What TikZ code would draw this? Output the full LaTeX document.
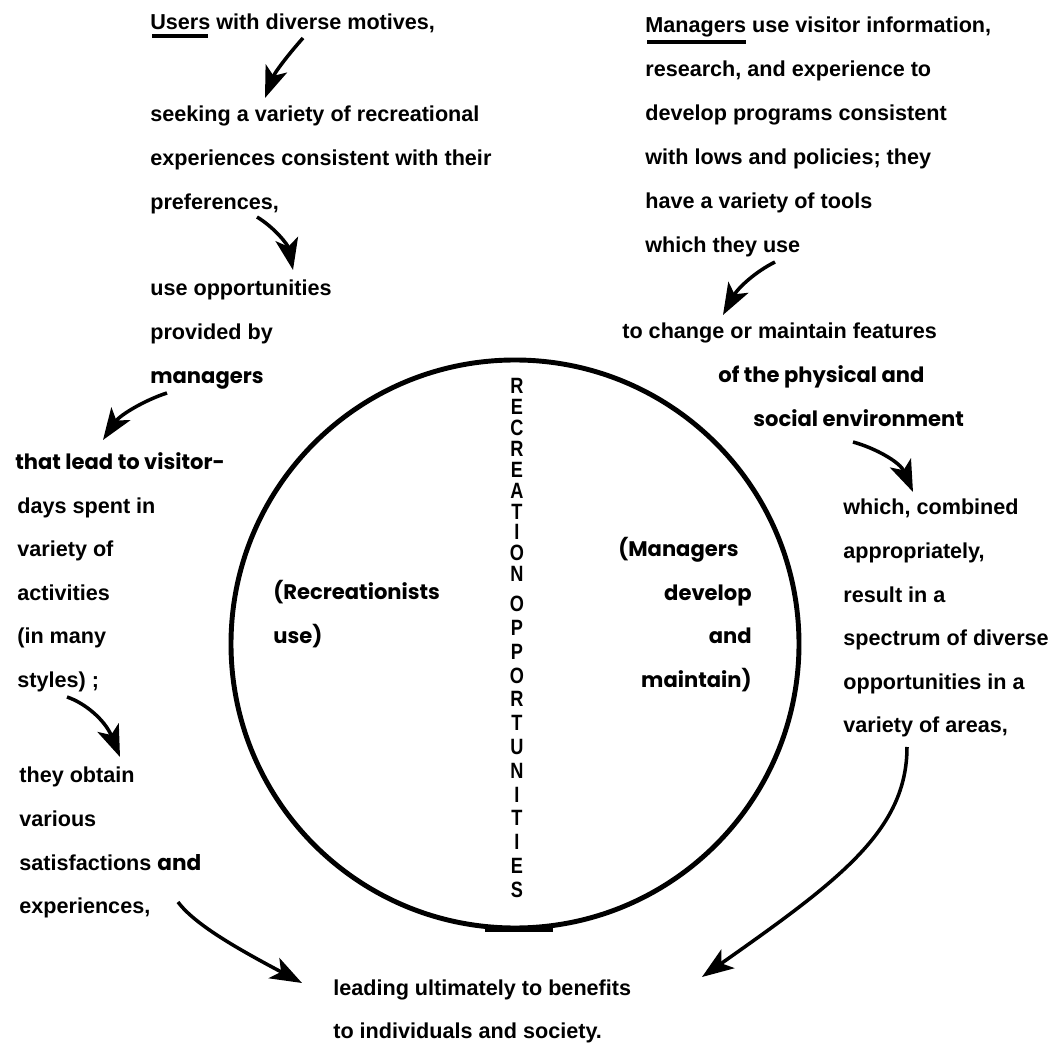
\documentclass[tikz,border=0pt]{standalone}
\usepackage{fontspec}
\setmainfont{Liberation Sans}
\newfontfamily\geofont{Poppins}
\newfontfamily\vertfont{Liberation Sans}[FakeStretch=0.82]
\usetikzlibrary{arrows.meta}

\tikzset{
  txt/.style={anchor=base west, inner sep=0pt, font=\fontsize{12.3}{15}\selectfont\bfseries},
  geo/.style={anchor=base west, inner sep=0pt, font=\geofont\fontsize{12}{14}\selectfont\bfseries},
  arr/.style={line width=2pt, -{Stealth[length=18pt,width=13pt,inset=4.5pt]}},
  vlet/.style={inner sep=0pt, font=\vertfont\fontsize{12.6}{12.6}\selectfont\bfseries},
}

\begin{document}
\begin{tikzpicture}[x=0.02cm, y=-0.02cm]
    \useasboundingbox (0,0) rectangle (1056,1047);

    % Circulo central
    \draw[line width=2.8pt] (515,644) circle (284);
    \draw[line width=3.8pt] (485,929) -- (553,929);

    % Texto vertical
    \foreach \l [count=\i from 0] in {R,E,C,R,E,A,T,I,O,N}
        \node[vlet] (rec\i) at (517, 386+20.9*\i) {\l};
    \foreach \l [count=\i from 0] in {O,P,P,O,R,T,U,N,I,T,I,E,S}
        \node[vlet] (opp\i) at (517, 604+23.8*\i) {\l};

    % Dentro del circulo
    \node[geo] (recuse) at (273,600) {(Recreationists};
    \node[geo] (recuse2) at (273,643.6) {use)};
    \node[geo, anchor=base east] (mandev) at (739,556.7) {(Managers};
    \foreach \t [count=\i from 0] in {develop,and,maintain)}
        \node[geo, anchor=base east] (mandev\i) at (752, 600.3+43.6*\i) {\t};

    % Columna izquierda
    \node[txt] (users) at (150,30) {Users with diverse motives,};
    \draw[line width=1.8pt] (152,36) -- (208,36);
    \foreach \t [count=\i from 0] in {{seeking a variety of recreational},{experiences consistent with their},{preferences,}}
        \node[txt] (seek\i) at (150, 122+43.6*\i) {\t};
    \node[txt] (useopp) at (150,296) {use opportunities};
    \node[txt] (provided) at (150,339.6) {provided by};
    \node[geo] (managers) at (150,383.2) {managers};

    \node[geo] (lead) at (15,469.5) {that lead to visitor-};
    \foreach \t [count=\i from 0] in {{days spent in},{variety of},activities,{(in many},{styles) ;}}
        \node[txt] (days\i) at (17, 513.1+43.6*\i) {\t};
    \node[txt] (obtain) at (19,783) {they obtain};
    \node[txt] (various) at (19,826.5) {various};
    \node[txt] (satisf) at (19,870) {satisfactions {\geofont and}};
    \node[txt] (exper) at (19,913.5) {experiences,};

    % Columna derecha
    \foreach \t [count=\i from 0] in {{Managers use visitor information,},{research, and experience to},{develop programs consistent},{with lows and policies; they},{have a variety of tools},{which they use}}
        \node[txt] (man\i) at (645, 33+44*\i) {\t};
    \draw[line width=1.8pt] (647,42) -- (746,42);
    \node[txt] (change) at (622,339) {to change or maintain features};
    \node[geo] (physical) at (718,383) {of the physical and};
    \node[geo] (social) at (753,427) {social environment};
    \foreach \t [count=\i from 0] in {{which, combined},{appropriately,},{result in a},{spectrum of diverse},{opportunities in a},{variety of areas,}}
        \node[txt] (comb\i) at (843, 515+43.6*\i) {\t};

    % Abajo
    \node[txt] (benefits) at (333,995) {leading ultimately to benefits};
    \node[txt] (society) at (333,1038) {to individuals and society.};

    % Flechas
    \coordinate (a1) at (303,38);  \coordinate (a2) at (265,98);
    \coordinate (b1) at (257,217); \coordinate (b2) at (293,270);
    \coordinate (c1) at (167,393); \coordinate (c2) at (103,440);
    \coordinate (d1) at (67,697);  \coordinate (d2) at (120,757);
    \coordinate (e1) at (178,902); \coordinate (e2) at (302,983);
    \coordinate (f1) at (775,262); \coordinate (f2) at (723,315);
    \coordinate (g1) at (853,442); \coordinate (g2) at (913,492);
    \coordinate (h1) at (907,747); \coordinate (h2) at (702,977);

    \draw[arr] (a1) .. controls (288,55) and (275,72) .. (a2);
    \draw[arr] (b1) .. controls (275,228) and (288,245) .. (b2);
    \draw[arr] (c1) .. controls (145,400) and (120,415) .. (c2);
    \draw[arr] (d1) .. controls (85,703) and (105,720) .. (d2);
    \draw[arr] (e1) .. controls (195,925) and (240,950) .. (e2);
    \draw[arr] (f1) .. controls (755,272) and (738,288) .. (f2);
    \draw[arr] (g1) .. controls (875,448) and (900,462) .. (g2);
    \draw[arr] (h1) .. controls (907,830) and (840,880) .. (h2);
\end{tikzpicture}
\end{document}
